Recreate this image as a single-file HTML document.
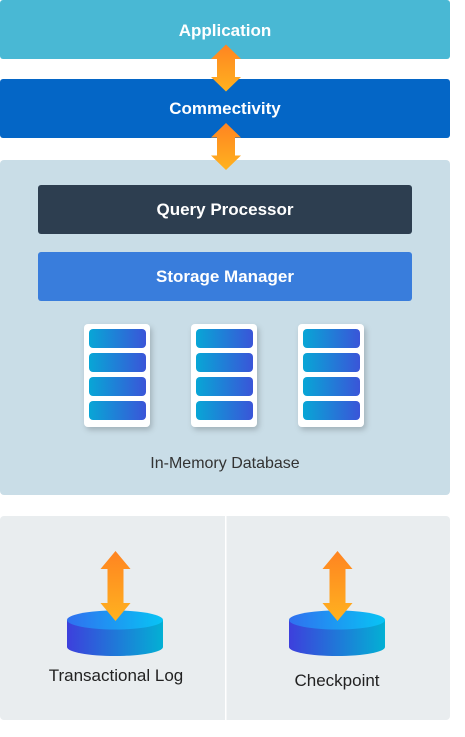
<!DOCTYPE html>
<html><head><meta charset="utf-8"><style>
body{margin:0;background:#fff;}
svg{display:block;font-family:"Liberation Sans",sans-serif;}
</style></head><body>
<svg width="465" height="737" viewBox="0 0 465 737" xmlns="http://www.w3.org/2000/svg">
<defs>
<linearGradient id="og" x1="0" y1="0" x2="0" y2="1"><stop offset="0" stop-color="#ff8421"/><stop offset="1" stop-color="#ffb21f"/></linearGradient>
<linearGradient id="bg" x1="0" y1="0" x2="1" y2="0"><stop offset="0" stop-color="#08a6d6"/><stop offset="1" stop-color="#3a55d8"/></linearGradient>
<linearGradient id="cs" x1="0" y1="0" x2="1" y2="0"><stop offset="0" stop-color="#3d3fdc"/><stop offset="1" stop-color="#03b0d4"/></linearGradient>
<linearGradient id="ct" x1="0" y1="0" x2="1" y2="0"><stop offset="0" stop-color="#3070f0"/><stop offset="1" stop-color="#08c4f4"/></linearGradient>
<filter id="sh" x="-30%" y="-30%" width="160%" height="160%"><feDropShadow dx="2" dy="3" stdDeviation="3" flood-color="#000" flood-opacity="0.2"/></filter>
<g id="arr"><path d="M0,-35 L15,-17 L8,-17 L8,17 L15,17 L0,35 L-15,17 L-8,17 L-8,-17 L-15,-17 Z" fill="url(#og)"/></g>
<g id="arrs"><path d="M0,-23.5 L15,-9 L9,-9 L9,9 L15,9 L0,23.5 L-15,9 L-9,9 L-9,-9 L-15,-9 Z" fill="url(#og)"/></g>
<g id="srv">
<rect x="0" y="0" width="66" height="103" rx="4" fill="#fff" filter="url(#sh)"/>
<rect x="5" y="5" width="57" height="19" rx="4" fill="url(#bg)"/>
<rect x="5" y="29" width="57" height="19" rx="4" fill="url(#bg)"/>
<rect x="5" y="53" width="57" height="19" rx="4" fill="url(#bg)"/>
<rect x="5" y="77" width="57" height="19" rx="4" fill="url(#bg)"/>
</g>
<g id="cyl">
<path d="M-48,620 L-48,647 A48,9 0 0 0 48,647 L48,620 Z" fill="url(#cs)"/>
<ellipse cx="0" cy="620" rx="48" ry="9.5" fill="url(#ct)"/>
</g>
</defs>
<rect x="0" y="0" width="450" height="59" rx="3" fill="#49b8d4"/>
<text x="225" y="36" text-anchor="middle" fill="#fff" font-size="17" font-weight="bold">Application</text>
<rect x="0" y="79" width="450" height="59" rx="3" fill="#0466c6"/>
<text x="225" y="114" text-anchor="middle" fill="#fff" font-size="17" font-weight="bold">Commectivity</text>
<rect x="0" y="160" width="450" height="335" rx="4" fill="#c9dde7"/>
<rect x="38" y="185" width="374" height="49" rx="3" fill="#2d3e50"/>
<text x="225" y="215" text-anchor="middle" fill="#fff" font-size="17" font-weight="bold">Query Processor</text>
<rect x="38" y="252" width="374" height="49" rx="3" fill="#397ddc"/>
<text x="225" y="282" text-anchor="middle" fill="#fff" font-size="17" font-weight="bold">Storage Manager</text>
<use href="#srv" x="84" y="324"/>
<use href="#srv" x="191" y="324"/>
<use href="#srv" x="298" y="324"/>
<text x="225" y="468" text-anchor="middle" fill="#333" font-size="16">In-Memory Database</text>
<use href="#arrs" x="226" y="68"/>
<use href="#arrs" x="226" y="146.5"/>
<rect x="0" y="516" width="450" height="204" rx="4" fill="#e9edef"/>
<rect x="225" y="516" width="1.5" height="204" fill="#fff"/>
<use href="#cyl" x="115" y="0"/>
<use href="#cyl" x="337" y="0"/>
<use href="#arr" x="115.5" y="586"/>
<use href="#arr" x="337.5" y="586"/>
<text x="116" y="681" text-anchor="middle" fill="#222" font-size="17">Transactional Log</text>
<text x="337" y="686" text-anchor="middle" fill="#222" font-size="17">Checkpoint</text>
</svg>
</body></html>
